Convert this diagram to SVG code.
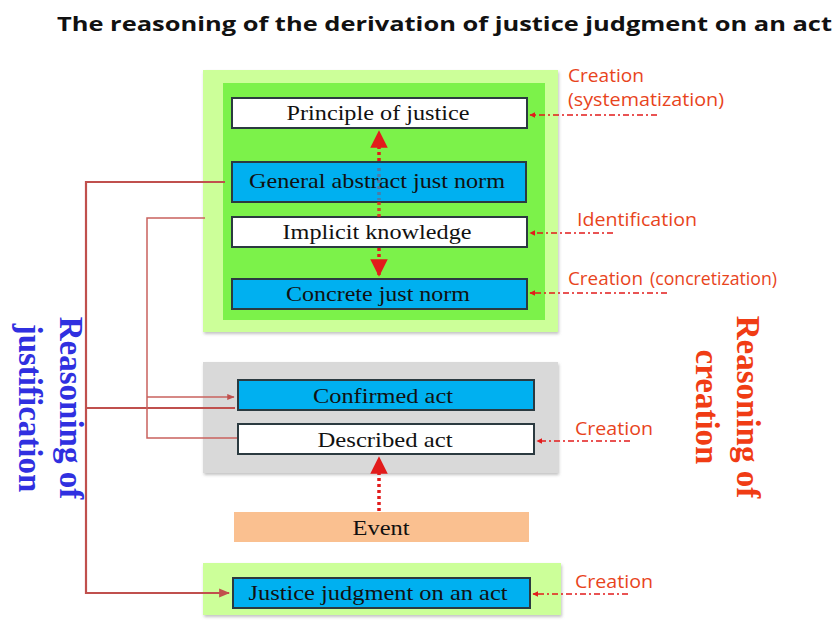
<svg xmlns="http://www.w3.org/2000/svg" width="834" height="623" viewBox="0 0 834 623">
<style>
.box{stroke:#2b3a40;stroke-width:2}
.blue{fill:#00b0f0}
.white{fill:#ffffff}
.bt{font-family:"Liberation Serif","Times New Roman",serif;font-size:21px;fill:#111;text-anchor:middle}
.lbl{font-family:"Open Sans","Liberation Sans",sans-serif;font-size:18.5px;fill:#e8441c}
.vt{font-family:"Liberation Serif","Times New Roman",serif;font-weight:bold;font-size:33px;text-anchor:middle}
.dd{stroke:#e21b1b;stroke-width:1.5;stroke-dasharray:6 3 2 3;fill:none}
.dot{stroke:#e21b1b;stroke-width:3.5;stroke-dasharray:3 3;fill:none}
.ln1{stroke:#c0504d;stroke-width:2.2;fill:none}
.ln2{stroke:#c9625e;stroke-width:1.5;fill:none}
</style>
<defs>
<marker id="ah" viewBox="0 0 10 10" refX="9" refY="5" markerWidth="4" markerHeight="4" orient="auto-start-reverse"><path d="M0,0 L10,5 L0,10 z" fill="#e21b1b"/></marker>
<marker id="ahs" viewBox="0 0 10 10" refX="9" refY="5" markerWidth="5" markerHeight="5" orient="auto"><path d="M0,0 L10,5 L0,10 z" fill="#e21b1b"/></marker>
<marker id="ahb" viewBox="0 0 10 10" refX="9" refY="5" markerWidth="5" markerHeight="5" orient="auto"><path d="M0,1 L10,5 L0,9 z" fill="#c0504d"/></marker>
<filter id="sh" x="-5%" y="-5%" width="110%" height="115%"><feDropShadow dx="1" dy="2" stdDeviation="1.5" flood-color="#888" flood-opacity="0.5"/></filter>
</defs>
<rect width="834" height="623" fill="#ffffff"/>
<text x="57" y="31" font-family="Open Sans,'Liberation Sans',sans-serif" font-weight="bold" font-size="20" fill="#111" textLength="775" lengthAdjust="spacingAndGlyphs">The reasoning of the derivation of justice judgment on an act</text>

<g id="top-group">
<rect x="203" y="70" width="355" height="262" fill="#ccff99" filter="url(#sh)"/>
<rect x="223" y="83" width="322" height="237" fill="#7cf24a"/>
</g>
<g id="acts-group">
<rect x="203" y="362" width="355" height="111" fill="#d9d9d9" filter="url(#sh)"/>
</g>
<g id="judgment-group">
<rect x="203" y="563" width="358" height="52" fill="#ccff99" filter="url(#sh)"/>
</g>

<g id="principle">
<rect class="box white" x="232" y="98" width="295" height="30"/>
<text class="bt" x="378" y="120" textLength="183" lengthAdjust="spacingAndGlyphs">Principle of justice</text>
</g>
<g id="general">
<rect class="box blue" x="232" y="162" width="294" height="40"/>
<text class="bt" x="377" y="188" textLength="256" lengthAdjust="spacingAndGlyphs">General abstract just norm</text>
</g>
<g id="implicit">
<rect class="box white" x="232" y="217" width="295" height="30"/>
<text class="bt" x="377" y="239" textLength="189" lengthAdjust="spacingAndGlyphs">Implicit knowledge</text>
</g>
<g id="concrete">
<rect class="box blue" x="232" y="279" width="295" height="30"/>
<text class="bt" x="378" y="301" textLength="184" lengthAdjust="spacingAndGlyphs">Concrete just norm</text>
</g>
<g id="confirmed">
<rect class="box blue" x="238" y="380" width="296" height="30"/>
<text class="bt" x="383" y="403" textLength="140" lengthAdjust="spacingAndGlyphs">Confirmed act</text>
</g>
<g id="described">
<rect class="box white" x="238" y="424" width="296" height="30"/>
<text class="bt" x="385" y="447" textLength="135" lengthAdjust="spacingAndGlyphs">Described act</text>
</g>
<g id="event">
<rect x="234" y="512" width="295" height="30" fill="#fac090"/>
<text class="bt" x="381" y="535" textLength="57" lengthAdjust="spacingAndGlyphs">Event</text>
</g>
<g id="judgment">
<rect class="box blue" x="233" y="578" width="297" height="30"/>
<text class="bt" x="378" y="600" textLength="259" lengthAdjust="spacingAndGlyphs">Justice judgment on an act</text>
</g>

<g id="connectors">
<line class="dot" x1="379" y1="161" x2="379" y2="132" marker-end="url(#ahs)"/>
<line class="dot" x1="379" y1="202" x2="379" y2="217" stroke-opacity="0.8"/>
<line class="dot" x1="379" y1="168" x2="379" y2="200" stroke-opacity="0.35"/>
<line class="dot" x1="379" y1="248" x2="379" y2="275" marker-end="url(#ahs)"/>
<line class="dot" x1="379" y1="511" x2="379" y2="458" marker-end="url(#ahs)"/>

<line class="dd" x1="657" y1="115" x2="530" y2="115" marker-end="url(#ah)"/>
<line class="dd" x1="613" y1="233" x2="530" y2="233" marker-end="url(#ah)"/>
<line class="dd" x1="667" y1="293" x2="530" y2="293" marker-end="url(#ah)"/>
<line class="dd" x1="630" y1="441" x2="537" y2="441" marker-end="url(#ah)"/>
<line class="dd" x1="628" y1="594" x2="533" y2="594" marker-end="url(#ah)"/>

<polyline class="ln1" points="225,182 86,182 86,593 229,593" marker-end="url(#ahb)"/>
<line class="ln1" x1="86" y1="408" x2="235" y2="408"/>
<polyline class="ln2" points="205,218 147,218 147,438 237,438"/>
<line class="ln2" x1="147" y1="397" x2="234" y2="397" marker-end="url(#ahb)"/>
</g>

<g id="labels">
<text class="lbl" x="568" y="82" textLength="76" lengthAdjust="spacingAndGlyphs">Creation</text>
<text class="lbl" x="568" y="106" textLength="156" lengthAdjust="spacingAndGlyphs">(systematization)</text>
<text class="lbl" x="577" y="226" textLength="120" lengthAdjust="spacingAndGlyphs">Identification</text>
<text class="lbl" x="568" y="285" textLength="75" lengthAdjust="spacingAndGlyphs">Creation</text>
<text class="lbl" x="650" y="285" font-size="15" textLength="127" lengthAdjust="spacingAndGlyphs">(concretization)</text>
<text class="lbl" x="575" y="435" textLength="78" lengthAdjust="spacingAndGlyphs">Creation</text>
<text class="lbl" x="575" y="588" textLength="78" lengthAdjust="spacingAndGlyphs">Creation</text>
</g>

<g id="vertical-labels">
<text class="vt" fill="#3030e0" transform="translate(60,408) rotate(90)">Reasoning of</text>
<text class="vt" fill="#3030e0" transform="translate(19,408) rotate(90)">justification</text>
<text class="vt" fill="#f03c14" transform="translate(737,407) rotate(90)">Reasoning of</text>
<text class="vt" fill="#f03c14" transform="translate(696,407) rotate(90)">creation</text>
</g>
</svg>
